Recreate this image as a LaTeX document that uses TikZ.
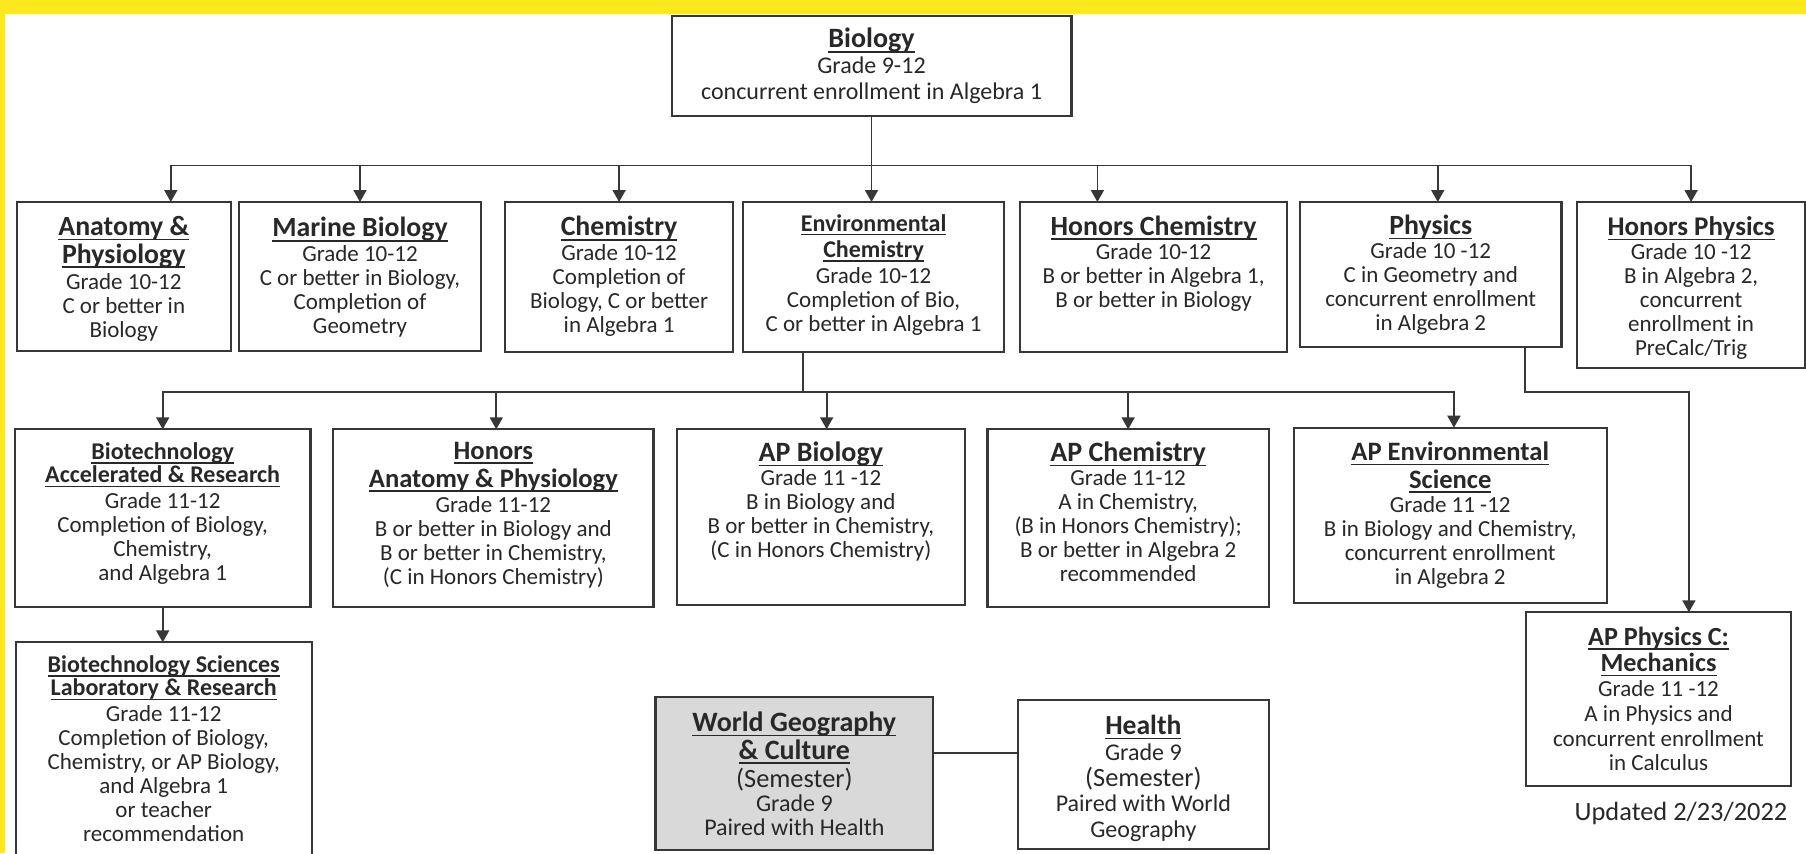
\documentclass[tikz,border=0pt]{standalone}
\usepackage{fontspec}
\setmainfont{Carlito}
\usetikzlibrary{fit,arrows.meta,calc}
\definecolor{ylw}{RGB}{252,232,30}
\definecolor{ink}{RGB}{40,40,40}
\definecolor{edge}{RGB}{55,55,55}
\definecolor{wgfill}{RGB}{217,217,217}
\newsavebox\ulbox
\newcommand\ulx[1]{\sbox\ulbox{#1}\rlap{\rule[-0.175em]{\wd\ulbox}{0.065em}}\usebox\ulbox}
\newcommand\ttl[2]{{\fontsize{#1}{#1}\selectfont\bfseries\ulx{#2}}}
\newcommand\nolsk{\lineskiplimit=-100pt\relax}
\newcommand\fbody{\fontsize{11.5}{12}\selectfont\nolsk}
\newcommand\fbig{\fontsize{12}{12}\selectfont\nolsk}
\newcommand\fbio{\fontsize{12}{12.5}\selectfont\nolsk}
% \course[text style]{name}{corner1}{corner2}{offset pt}{text}
\newcommand\course[6][]{%
  \node[box,fit={(#3) (#4)}] (#2) {};
  \node[txt,anchor=north,#1] (#2-t) at ([yshift=-#5pt]#2.north) {#6};
}
\begin{document}
\begin{tikzpicture}[x=0.5pt,y=-0.5pt,
  box/.style={draw=edge,line width=1.1pt,inner sep=0pt,outer sep=0pt,fill=white},
  txt/.style={align=center,inner sep=0pt,outer sep=0pt,text=ink,font=\fbody},
  link/.style={draw=edge,line width=0.9pt},
  arr/.style={link,-{Triangle[width=6.5pt,length=6pt]}}]
\useasboundingbox (0,0) rectangle (1806,853);
\fill[white] (0,0) rectangle (1806,853);
\fill[ylw] (0,0) rectangle (1806,14);
\fill[ylw] (0,0) rectangle (5,853);
\begin{scope}
\clip (5,14) rectangle (1806,853);
% top
\node[box,fit={(671.6,15.7) (1071.4,116)}] (bio) {};
\node[txt,font=\fbio] (bio-t) at (bio) {\ttl{14}{Biology}\\[0.2pt] Grade 9-12\\[0.7pt] concurrent enrollment in Algebra 1};
% row 1
\course{ana}{16.6,202}{231,350.7}{7.2}{\ttl{13.9}{Anatomy \&}\\[1.8pt] \ttl{13.9}{Physiology}\\[1.2pt] Grade 10-12\\ C or better in\\ Biology}
\course{mar}{239,202}{481,350.7}{7.6}{\ttl{13.9}{Marine Biology}\\[0.2pt] Grade 10-12\\ C or better in Biology,\\ Completion of\\ Geometry}
\course{che}{505,202}{733.2,351.7}{7.2}{\ttl{13.9}{Chemistry}\\[0.2pt] Grade 10-12\\ Completion of\\ Biology, C or better\\ in Algebra 1}
\course{env}{743.1,202}{1004.1,352.3}{6.2}{\ttl{12}{Environmental}\\[1.2pt] \ttl{12}{Chemistry}\\[1pt] Grade 10-12\\ Completion of Bio,\\ C or better in Algebra 1}
\course{hch}{1019.9,202}{1287.3,352.3}{6.8}{\ttl{13.9}{Honors Chemistry}\\[0.2pt] Grade 10-12\\ B or better in Algebra 1,\\ B or better in Biology}
\course{phy}{1300.1,202}{1561.4,347.3}{6.5}{\ttl{13.9}{Physics}\\[0.2pt] Grade 10 -12\\ C in Geometry and\\ concurrent enrollment\\ in Algebra 2}
\course{hph}{1577.2,202}{1805,368.3}{7.3}{\ttl{13.5}{Honors Physics}\\[0.2pt] Grade 10 -12\\ B in Algebra 2,\\ concurrent\\ enrollment in\\ PreCalc/Trig}
% row 2
\course{bar}{15,429.3}{310.4,606.7}{6.6}{\ttl{12}{Biotechnology}\\[-0.2pt] \ttl{12}{Accelerated \& Research}\\[1pt] Grade 11-12\\ Completion of Biology,\\ Chemistry,\\ and Algebra 1}
\course{hap}{333.3,429.3}{653.4,607.3}{6.5}{\ttl{13.3}{Honors}\\[1.8pt] \ttl{13.3}{Anatomy \& Physiology}\\[0.6pt] Grade 11-12\\ B or better in Biology and\\ B or better in Chemistry,\\ (C in Honors Chemistry)}
\course{apb}{677.1,429.3}{964.6,605}{6.3}{\ttl{14}{AP Biology}\\[0.2pt] Grade 11 -12\\ B in Biology and\\ B or better in Chemistry,\\ (C in Honors Chemistry)}
\course{apch}{987.5,429.3}{1268.8,606.7}{6.3}{\ttl{14}{AP Chemistry}\\[0.2pt] Grade 11-12\\ A in Chemistry,\\ (B in Honors Chemistry);\\ B or better in Algebra 2\\ recommended}
\course{ape}{1293.9,427.7}{1606.6,602.7}{7.1}{\ttl{13.3}{AP Environmental}\\[1.8pt] \ttl{13.3}{Science}\\[0.2pt] Grade 11 -12\\ B in Biology and Chemistry,\\ concurrent enrollment\\ in Algebra 2}
\course{apc}{1525.8,612.3}{1791.3,785.7}{7.3}{\ttl{13.1}{AP Physics C:}\\[1.3pt] \ttl{13.1}{Mechanics}\\[0.5pt] Grade 11 -12\\[0.3pt] A in Physics and\\[0.3pt] concurrent enrollment\\ in Calculus}
% row 3
\course{bsci}{15.8,642.3}{311.6,880}{6.6}{\ttl{12}{Biotechnology Sciences}\\[-0.2pt] \ttl{12}{Laboratory \& Research}\\[1pt] Grade 11-12\\ Completion of Biology,\\ Chemistry, or AP Biology,\\ and Algebra 1\\ or teacher\\ recommendation}
\node[box,fill=wgfill,fit={(655.4,696.7) (933.3,850)}] (wg) {};
\node[txt,anchor=north,font=\fbig] (wg-t) at ([yshift=-7.6pt]wg.north) {\ttl{14}{World Geography}\\[1.8pt] \ttl{14}{\& Culture}\\[2.4pt] {\fontsize{13.2}{13.2}\selectfont (Semester)}\\ Grade 9\\ Paired with Health};
\node[box,fit={(1017.9,700) (1268.8,849.3)}] (hea) {};
\node[txt,anchor=north,font=\fbig] (hea-t) at ([yshift=-7.6pt]hea.north) {\ttl{13.8}{Health}\\[1.2pt] Grade 9\\[0.7pt] {\fontsize{13.2}{13.2}\selectfont (Semester)}\\[0.7pt] Paired with World\\[0.7pt] Geography};
\node[txt,font=\fontsize{13.2}{13.2}\selectfont] (upd) at (1681,813) {Updated 2/23/2022};
% connectors
\coordinate (j1) at ($(bio.south)+(0,49.5)$);
\coordinate (ana-in) at ($(ana.north)+(47,0)$);
\coordinate (env-in) at (bio.south |- env.north);
\coordinate (hch-in) at ($(hch.north)+(-56.2,0)$);
\coordinate (phy-in) at ($(phy.north)+(7,0)$);
\draw[link] (bio.south) -- (j1);
\draw[arr] (j1) -| (ana-in);
\draw[arr] (j1) -| (mar.north);
\draw[arr] (j1) -| (che.north);
\draw[arr] (j1) -- (env-in);
\draw[arr] (j1) -| (hch-in);
\draw[arr] (j1) -| (phy-in);
\draw[arr] (j1) -| (hph.north);
\coordinate (j2) at (802.8,392.3);
\coordinate (hap-in) at ($(hap.north)+(2.9,0)$);
\coordinate (apb-in) at ($(apb.north)+(5.8,0)$);
\coordinate (ape-in) at ($(ape.north)+(3.7,0)$);
\draw[link] (j2 |- env.south) -- (j2);
\draw[arr] (j2) -| (bar.north);
\draw[arr] (j2) -| (hap-in);
\draw[arr] (j2) -| (apb-in);
\draw[arr] (j2) -| (apch.north);
\draw[arr] (j2) -| (ape-in);
\coordinate (phy-out) at ($(phy.south)+(94.6,0)$);
\coordinate (apc-in) at ($(apc.north)+(30.35,0)$);
\draw[arr] (phy-out) |- (apc-in |- j2) -- (apc-in);
\draw[arr] (bar.south) -- (bar.south |- bsci.north);
\coordinate (wg-out) at ($(wg.north east)+(0,56.6)$);
\draw[link] (wg-out) -- (wg-out -| hea.west);
\end{scope}
\end{tikzpicture}
\end{document}
